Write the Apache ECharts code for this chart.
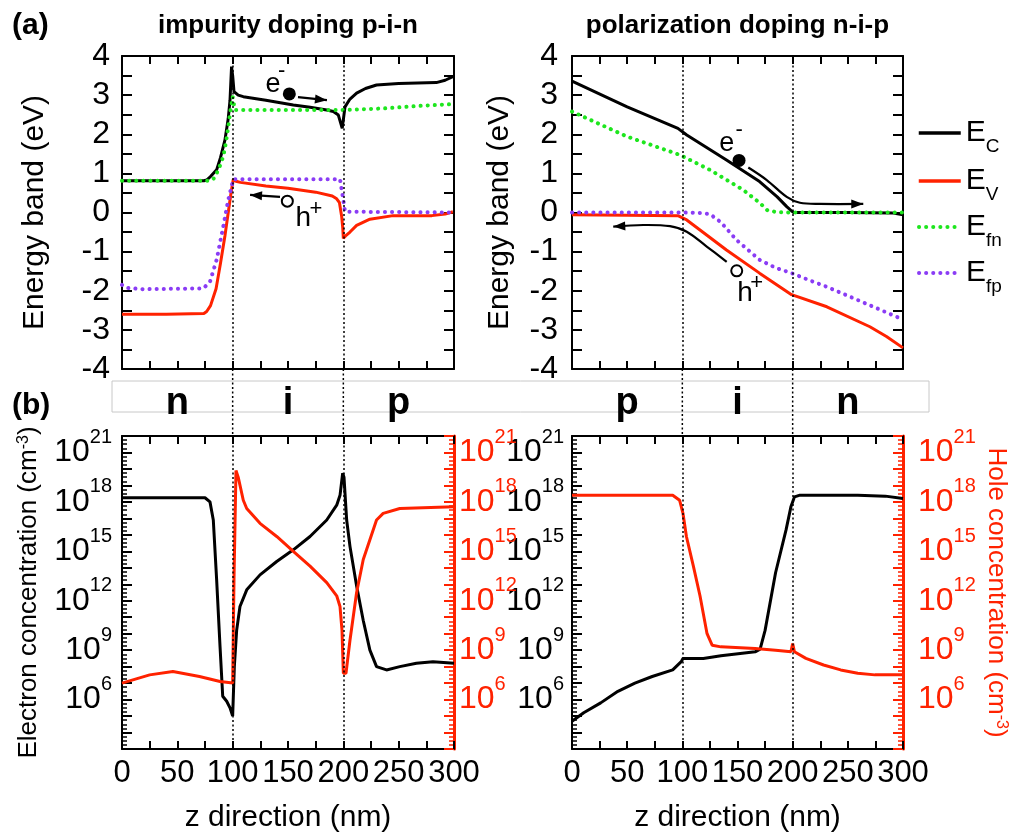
<!DOCTYPE html>
<html><head><meta charset="utf-8">
<script src="https://cdn.jsdelivr.net/npm/echarts@6/dist/echarts.min.js"></script>
<style>html,body{margin:0;padding:0;background:#fff}#c{width:1019px;height:840px}</style>
</head><body><div id="c"></div>
<script>
// ---------- DATA ----------
const pinEcX  = [0, 40, 74, 76.5, 80, 85.5, 89, 93, 96, 97.6, 99, 100, 101.2, 105, 109.6, 130, 154.8, 170, 185, 191, 195.5, 199, 201.5, 206, 212, 220, 230, 250, 284, 292, 299];
const pinEcY  = [0.81, 0.81, 0.81, 0.83, 0.92, 1.09, 1.4, 1.85, 2.4, 2.87, 3.73, 3.5, 3.09, 3.0, 2.96, 2.87, 2.75, 2.69, 2.62, 2.58, 2.49, 2.15, 2.7, 2.9, 3.05, 3.17, 3.26, 3.3, 3.32, 3.38, 3.47];
const pinEvX  = [0, 40, 74, 76.5, 80, 85, 89, 93, 96, 98.5, 100.6, 103, 107, 130, 150, 175, 190, 194, 196.5, 198.5, 199.5, 200, 202, 206, 212, 224, 245, 280, 292, 299];
const pinEvY  = [-2.6, -2.6, -2.58, -2.53, -2.38, -1.95, -1.3, -0.6, 0.0, 0.5, 0.85, 0.8, 0.77, 0.68, 0.62, 0.52, 0.42, 0.35, 0.25, -0.1, -0.4, -0.66, -0.6, -0.5, -0.33, -0.17, -0.08, -0.08, -0.04, 0.02];
const pinEfnX = [0, 40, 78, 82.5, 85.5, 88.6, 91.5, 94, 96, 98, 100, 102, 150, 200, 236, 266, 299];
const pinEfnY = [0.81, 0.81, 0.81, 0.85, 1.0, 1.2, 1.43, 1.8, 2.19, 2.6, 2.96, 2.62, 2.62, 2.62, 2.66, 2.72, 2.77];
const pinEfpX = [0, 5, 19, 73.5, 79.5, 85.5, 91.5, 96, 100.6, 197, 200, 201.5, 300];
const pinEfpY = [-1.85, -1.93, -1.96, -1.94, -1.77, -1.21, -0.36, 0.32, 0.85, 0.85, 0.32, 0.02, 0.0];
const nipEcX  = [0, 50, 96, 104, 140, 170, 186, 194.6, 200.6, 250, 290, 300];
const nipEcY  = [3.36, 2.70, 2.15, 1.98, 1.34, 0.79, 0.4, 0.15, 0.0, 0.0, -0.01, -0.06];
const nipEvX  = [0, 50, 96, 104, 140, 170, 199, 231, 270, 285, 300];
const nipEvY  = [-0.06, -0.07, -0.08, -0.19, -0.96, -1.55, -2.1, -2.41, -2.92, -3.17, -3.46];
const nipEfnX = [0, 50, 98, 125, 155, 170, 177, 185, 200, 300];
const nipEfnY = [2.58, 1.94, 1.47, 1.09, 0.58, 0.25, 0.06, 0.01, 0.0, 0.0];
const nipEfpX = [0, 100, 115, 125, 135, 149, 170, 185, 199, 215, 231, 260, 297];
const nipEfpY = [0, 0, -0.01, -0.04, -0.25, -0.70, -1.21, -1.42, -1.55, -1.73, -1.9, -2.25, -2.70];
const pinElecX = [0, 40, 75, 79.5, 82.5, 85.5, 88.6, 91, 94.6, 97.6, 100, 101.5, 103.6, 106.6, 112.7, 124.7, 139.8, 154.8, 169.9, 185, 194, 197, 199.4, 200.6, 203, 206, 212, 218, 224, 230, 239, 251, 266, 281, 300];
const pinElecLog = [18.25, 18.25, 18.25, 18.0, 16.9, 13.3, 9.2, 6.2, 5.9, 5.5, 5.0, 8.0, 10.2, 11.65, 12.66, 13.57, 14.38, 15.09, 15.9, 16.9, 17.8, 18.4, 19.74, 19.5, 16.9, 15.3, 12.9, 10.8, 9.0, 8.0, 7.8, 8.0, 8.2, 8.3, 8.2];
const pinHoleX = [0, 25, 46, 70, 88.6, 100, 101.2, 103, 105, 109.6, 112.7, 124.7, 139.8, 154.8, 169.9, 185, 194, 197, 198.8, 200, 202.4, 206, 212, 218, 224, 230, 236, 251, 300];
const pinHoleLog = [7.0, 7.5, 7.7, 7.4, 7.1, 7.0, 13.3, 19.9, 19.5, 18.1, 17.6, 16.7, 15.9, 15.0, 14.1, 13.1, 12.3, 11.65, 10.2, 7.6, 7.6, 9.6, 12.5, 14.5, 15.7, 16.9, 17.3, 17.6, 17.7];
const nipElecX = [0, 10.6, 26, 41.6, 57, 72.7, 91.3, 99, 100.6, 102, 119, 135, 166, 170.5, 175, 184.5, 194, 198.4, 201.6, 206, 259, 284, 300];
const nipElecLog = [4.68, 5.2, 5.8, 6.5, 7.0, 7.4, 7.8, 8.3, 8.5, 8.4, 8.5, 8.66, 8.9, 9.06, 10.2, 13.7, 16.3, 17.7, 18.3, 18.4, 18.4, 18.35, 18.2];
const nipHoleX = [0, 91.3, 97.5, 100.6, 103.7, 110, 116, 122.4, 127, 135, 166, 184.5, 198.4, 200, 201.6, 212, 228, 243.5, 259, 274.5, 300];
const nipHoleLog = [18.4, 18.4, 18.1, 17.3, 15.9, 14.1, 12.3, 10.0, 9.3, 9.2, 9.1, 9.0, 8.9, 9.4, 8.9, 8.5, 8.1, 7.8, 7.6, 7.5, 7.5];
const logLabelExponents = [6, 9, 12, 15, 18, 21];
const junctions = [100, 200];
const pinRegions = [['n', 50], ['i', 150], ['p', 250]];
const nipRegions = [['p', 50], ['i', 150], ['n', 250]];
const legendNames = ['Ec', 'Ev', 'Efn', 'Efp'];
const legendLabels = {Ec: '{m|E}{s|C}', Ev: '{m|E}{s|V}', Efn: '{m|E}{s|fn}', Efp: '{m|E}{s|fp}'};

// ---------- STYLE ----------
const F = "'Liberation Sans', Arial, sans-serif";
const RED = '#ff2200', GREEN = '#1ee61e', PURPLE = '#8a3cf5', BLK = '#000';
const zip = (xs, ys) => xs.map((x, i) => [x, ys[i]]);

const chart = echarts.init(document.getElementById('c'), null, {renderer: 'canvas'});

const grids = [
  {left: 122, top: 56, width: 332, height: 313},
  {left: 572, top: 56, width: 331, height: 313},
  {left: 122, top: 436, width: 332, height: 313},
  {left: 572, top: 436, width: 331, height: 313}
].map(g => Object.assign({containLabel: false, outerBoundsMode: 'none'}, g));

// ticks pointing into the plot: drawn on the outer side with a negative length
function tickCfg(color, len, w) {
  return {show: true, inside: false, length: -len, lineStyle: {color, width: w}};
}
function minorCfg(color, n, len, w) {
  return {show: true, splitNumber: n, length: -len, lineStyle: {color, width: w}};
}
const xAxes = [];
for (let g = 0; g < 4; g++) {
  xAxes.push({
    type: 'value', gridIndex: g, min: 0, max: 300, interval: 50, position: 'bottom',
    axisLine: {show: true, onZero: false, lineStyle: {color: BLK, width: 2}},
    axisTick: tickCfg(BLK, 8, 2), minorTick: minorCfg(BLK, 2, 8, 2),
    splitLine: {show: false}, minorSplitLine: {show: false},
    axisLabel: {show: g >= 2, margin: 9, fontSize: 31, color: BLK, fontFamily: F},
    name: g >= 2 ? 'z direction (nm)' : '', nameLocation: 'middle', nameGap: 54, nameMoveOverlap: false,
    nameTextStyle: {fontSize: 30, color: BLK, fontFamily: F}
  });
}
for (let g = 0; g < 4; g++) {
  xAxes.push({
    type: 'value', gridIndex: g, min: 0, max: 300, interval: 50, position: 'top',
    axisLine: {show: true, onZero: false, lineStyle: {color: BLK, width: 2}},
    axisTick: tickCfg(BLK, 8, 2), minorTick: minorCfg(BLK, 2, 8, 2),
    splitLine: {show: false}, axisLabel: {show: false}
  });
}
const logFormatter = v => logLabelExponents.indexOf(v) >= 0 ? '{b|10}{s|' + v + '}' : '';
function logRich(color) {
  return {b: {fontSize: 32, lineHeight: 50, fontFamily: F, color},
          s: {fontSize: 20, lineHeight: 20, verticalAlign: 'top', fontFamily: F, color}};
}
const yAxes = [];
yAxes.push({type: 'value', gridIndex: 0, min: -4, max: 4, interval: 1, position: 'left',
  axisLine: {show: true, onZero: false, lineStyle: {color: BLK, width: 2}},
  axisTick: tickCfg(BLK, 10, 2), minorTick: minorCfg(BLK, 2, 10, 2), splitLine: {show: false},
  axisLabel: {margin: 12, fontSize: 32, color: BLK, fontFamily: F},
  name: 'Energy band (eV)', nameLocation: 'middle', nameGap: 72, nameMoveOverlap: false,
  nameTextStyle: {fontSize: 30, color: BLK, fontFamily: F}});
yAxes.push({type: 'value', gridIndex: 1, min: -4, max: 4, interval: 1, position: 'left',
  axisLine: {show: true, onZero: false, lineStyle: {color: BLK, width: 2}},
  axisTick: tickCfg(BLK, 10, 2), minorTick: minorCfg(BLK, 2, 10, 2), splitLine: {show: false},
  axisLabel: {margin: 14, fontSize: 32, color: BLK, fontFamily: F},
  name: 'Energy band (eV)', nameLocation: 'middle', nameGap: 57, nameMoveOverlap: false,
  nameTextStyle: {fontSize: 30, color: BLK, fontFamily: F}});
for (let g = 2; g < 4; g++) {
  yAxes.push({type: 'value', gridIndex: g, min: 3, max: 22, interval: 1, position: 'left',
    axisLine: {show: true, onZero: false, lineStyle: {color: BLK, width: 2}},
    axisTick: tickCfg(BLK, 10, 2), minorTick: minorCfg(BLK, 4, 5, 1.5), splitLine: {show: false},
    axisLabel: {margin: g === 2 ? 10 : 8, formatter: logFormatter, rich: logRich(BLK)},
    name: g === 2 ? 'Electron concentration (cm{s|-3})' : '', nameLocation: 'middle', nameGap: 80, nameMoveOverlap: false,
    nameTextStyle: {fontSize: 26, color: BLK, fontFamily: F,
      rich: {s: {fontSize: 16, lineHeight: 16, verticalAlign: 'top', fontFamily: F, color: BLK}}}});
}
for (let g = 0; g < 2; g++) {
  yAxes.push({type: 'value', gridIndex: g, min: -4, max: 4, interval: 1, position: 'right',
    axisLine: {show: true, onZero: false, lineStyle: {color: BLK, width: 2}},
    axisTick: tickCfg(BLK, 10, 2), minorTick: minorCfg(BLK, 2, 10, 2), splitLine: {show: false},
    axisLabel: {show: false}});
}
for (let g = 2; g < 4; g++) {
  yAxes.push({type: 'value', gridIndex: g, min: 3, max: 22, interval: 1, position: 'right',
    axisLine: {show: true, onZero: false, lineStyle: {color: RED, width: 3}},
    axisTick: tickCfg(RED, 10, 2), minorTick: minorCfg(RED, 4, 5, 1.5), splitLine: {show: false},
    axisLabel: {margin: g === 2 ? 5 : 15, formatter: logFormatter, rich: logRich(RED)},
    name: g === 3 ? 'Hole concentration (cm{s|-3})' : '', nameLocation: 'middle', nameGap: 80, nameRotate: -90,
    nameMoveOverlap: false,
    nameTextStyle: {fontSize: 26, color: RED, fontFamily: F,
      rich: {s: {fontSize: 16, lineHeight: 16, verticalAlign: 'top', fontFamily: F, color: RED}}}});
}

const junctionMark = {
  silent: true, symbol: ['none', 'none'], label: {show: false}, animation: false,
  lineStyle: {color: BLK, width: 1.5, type: [2, 2.5]},
  emphasis: {disabled: true},
  data: junctions.map(x => ({xAxis: x}))
};
function ln(name, g, yIdx, data, color, dotted, mark) {
  const s = {
    type: 'line', name, xAxisIndex: g, yAxisIndex: yIdx, data, symbol: 'none', showSymbol: false,
    smooth: false, animation: false, silent: true, z: dotted ? 4 : 3,
    lineStyle: dotted ? {color, width: 4, type: [0.1, 7], cap: 'round'} : {color, width: 3},
    itemStyle: {color}
  };
  if (mark) s.markLine = junctionMark;
  return s;
}
const series = [
  ln('Ec', 0, 0, zip(pinEcX, pinEcY), BLK, false, true),
  ln('Ev', 0, 0, zip(pinEvX, pinEvY), RED, false),
  ln('Efn', 0, 0, zip(pinEfnX, pinEfnY), GREEN, true),
  ln('Efp', 0, 0, zip(pinEfpX, pinEfpY), PURPLE, true),
  ln('Ec', 1, 1, zip(nipEcX, nipEcY), BLK, false, true),
  ln('Ev', 1, 1, zip(nipEvX, nipEvY), RED, false),
  ln('Efn', 1, 1, zip(nipEfnX, nipEfnY), GREEN, true),
  ln('Efp', 1, 1, zip(nipEfpX, nipEfpY), PURPLE, true),
  ln('n-pin', 2, 2, zip(pinElecX, pinElecLog), BLK, false, true),
  ln('p-pin', 2, 6, zip(pinHoleX, pinHoleLog), RED, false),
  ln('n-nip', 3, 3, zip(nipElecX, nipElecLog), BLK, false, true),
  ln('p-nip', 3, 7, zip(nipHoleX, nipHoleLog), RED, false)
];

// one legend block per entry, stacked
const legendTops = [113, 161, 207, 253];
const legends = legendNames.map((n, i) => ({
  orient: 'vertical', left: 912, top: legendTops[i], itemWidth: 42, itemHeight: 12,
  selectedMode: false,
  data: [{name: n, lineStyle: {width: n.length === 2 ? 3.5 : 4}}],
  formatter: k => legendLabels[k],
  itemStyle: {opacity: 0},
  textStyle: {rich: {
    m: {fontSize: 30, lineHeight: 46, fontFamily: F, color: BLK},
    s: {fontSize: 19, lineHeight: 19, verticalAlign: 'bottom', fontFamily: F, color: BLK}
  }}
}));

chart.setOption({backgroundColor: '#fff', animation: false,
  grid: grids, xAxis: xAxes, yAxis: yAxes, series, legend: legends});

// ---------- annotations (placed through the axes' scales) ----------
const P = (g, pt) => chart.convertToPixel({xAxisIndex: g, yAxisIndex: g}, pt);
const els = [];
function txt(x, y, s, size, weight, color, align) {
  els.push({type: 'text', x, y, z: 20, style: {text: s, fontSize: size, fontWeight: weight || 'normal',
    fontFamily: F, fill: color || BLK, align: align || 'center', verticalAlign: 'middle'}});
}
function arrow(g, pts, headAtStart, smooth) {
  const pp = pts.map(p => P(g, p));
  els.push({type: 'polyline', z: 20, shape: {points: pp, smooth: smooth ? 0.35 : 0},
    style: {stroke: BLK, lineWidth: 2.2, fill: null}});
  const tip = headAtStart ? pp[0] : pp[pp.length - 1];
  const prev = headAtStart ? pp[1] : pp[pp.length - 2];
  const dx = tip[0] - prev[0], dy = tip[1] - prev[1], L = Math.hypot(dx, dy), ux = dx / L, uy = dy / L;
  const len = 12, hw = 4.5, bx = tip[0] - ux * len, by = tip[1] - uy * len;
  els.push({type: 'polygon', z: 21, shape: {points: [tip, [bx - uy * hw, by + ux * hw], [bx + uy * hw, by - ux * hw]]},
    style: {fill: BLK}});
}
function dot(g, pt, filled) {
  const p = P(g, pt);
  els.push({type: 'circle', z: 21, shape: {cx: p[0], cy: p[1], r: filled ? 6.5 : 5.5},
    style: filled ? {fill: BLK} : {fill: '#fff', stroke: BLK, lineWidth: 2}});
}
function label(g, pt, s, size) { const p = P(g, pt); txt(p[0], p[1], s, size); }

const tl = P(0, [150, 4]), tr = P(1, [150, 4]);
txt(tl[0], 26, 'impurity doping p-i-n', 26, 'bold');
txt(tr[0], 26, 'polarization doping n-i-p', 26, 'bold');
txt(12, 26, '(a)', 30, 'bold', BLK, 'left');
txt(12, 406, '(b)', 30, 'bold', BLK, 'left');

els.push({type: 'rect', z: 1, shape: {x: 112, y: 381, width: 817, height: 31},
  style: {fill: null, stroke: '#c8c8c8', lineWidth: 1}});
pinRegions.forEach(([s, x]) => txt(P(2, [x, 22])[0], 404, s, 38, 'bold'));
nipRegions.forEach(([s, x]) => txt(P(3, [x, 22])[0], 404, s, 38, 'bold'));
[[0, 2], [1, 3]].forEach(([gt, gb]) => junctions.forEach(x => {
  const a = P(gt, [x, -4]), b = P(gb, [x, 22]);
  els.push({type: 'line', z: 2, shape: {x1: a[0], y1: a[1], x2: b[0], y2: b[1]},
    style: {stroke: BLK, lineWidth: 1.5, lineDash: [2, 2.5]}});
}));

label(0, [136.4, 3.28], 'e', 27);
label(0, [144.3, 3.62], '-', 22);
dot(0, [151.2, 3.03], true);
arrow(0, [[159, 2.95], [185.2, 2.87]], false);
dot(0, [149.4, 0.29], false);
label(0, [163.8, -0.15], 'h', 28);
label(0, [175.3, 0.1], '+', 22);
arrow(0, [[115.7, 0.45], [142.8, 0.40]], true);
label(1, [140.2, 1.77], 'e', 27);
label(1, [151.5, 2.12], '-', 22);
dot(1, [151.4, 1.33], true);
arrow(1, [[159.8, 1.15], [176.5, 0.83], [194.6, 0.40], [206.6, 0.25], [224.8, 0.22], [264, 0.22]], false, true);
dot(1, [149.3, -1.49], false);
label(1, [156.8, -2.07], 'h', 28);
label(1, [167.4, -1.79], '+', 22);
arrow(1, [[37.4, -0.36], [64.6, -0.32], [88.8, -0.35], [104, -0.49], [122.1, -0.87], [140.2, -1.26]], true, true);

chart.setOption({graphic: {elements: els}});
</script>
</body></html>
